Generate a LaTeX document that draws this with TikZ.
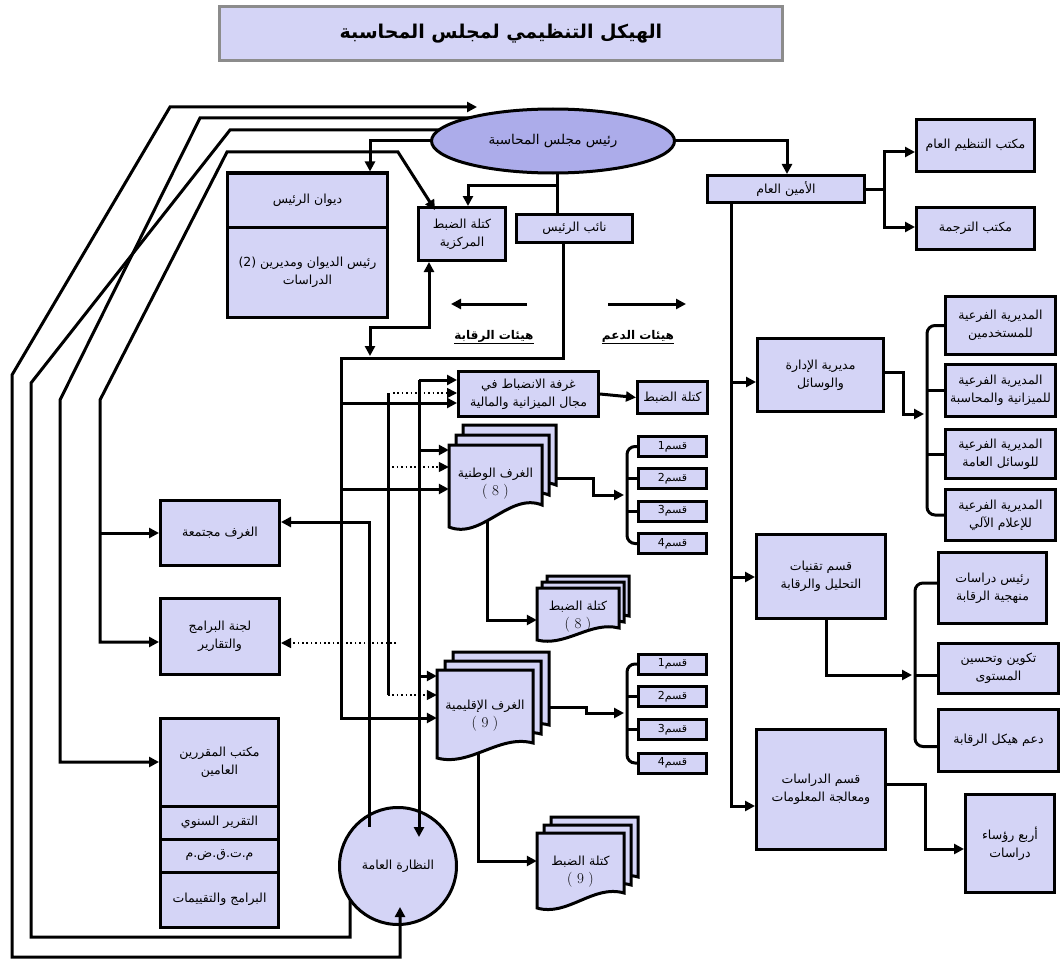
\documentclass[tikz,border=0pt]{standalone}
\usepackage{fontspec}
\usetikzlibrary{arrows.meta,shapes.geometric,calc}
\newfontfamily\arabicfont[Script=Arabic]{DejaVu Sans}
\TeXXeTstate=1
\newcommand\ar[1]{\beginR#1\endR}
\newcommand\num[1]{{\rmfamily\fontsize{15}{17}\selectfont #1}}
\definecolor{boxfill}{RGB}{212,212,246}
\definecolor{ellfill}{RGB}{172,172,234}
\definecolor{titleline}{RGB}{140,140,140}
\pgfdeclarelayer{back}
\pgfdeclarelayer{bg}
\pgfsetlayers{back,bg,main}
% one document shape: xl, yt, w, h (right edge), a (extra drop at left)
\newcommand\docshape[5]{%
  \filldraw[ln, fill=boxfill] (#1,#2) -- (#1+#3,#2) -- (#1+#3,#2+#4)
    .. controls (#1+0.65*#3,#2+#4-0.6*#5) and (#1+0.35*#3,#2+#4+1.6*#5) .. (#1,#2+#4+#5) -- cycle;}
% stack: name, xl, yt, w, h, a, dx, dy(up), text
\newcommand\docstack[9]{%
  \docshape{#2+2*#7}{#3-2*#8}{#4}{#5}{#6}
  \docshape{#2+#7}{#3-#8}{#4}{#5}{#6}
  \docshape{#2}{#3}{#4}{#5}{#6}
  \node[inner sep=0pt, minimum width=#4, minimum height=#5] (#1) at (#2+0.5*#4,#3+0.5*#5) {};
  \node[stxt] at ($(#1.center)+(0,9)$) {#9};
}
\begin{document}
\begin{tikzpicture}[x=1pt,y=-1pt,
  ln/.style={line width=3pt},
  arr/.style={ln,-{Triangle[length=10pt,width=10pt]}},
  darr/.style={ln,{Triangle[length=10pt,width=10pt]}-{Triangle[length=10pt,width=10pt]}},
  dotarr/.style={line width=1.6pt, dash pattern=on 1.6pt off 2.8pt, -{Triangle[length=10pt,width=10pt]}},
  rnd/.style={ln, rounded corners=8pt},
  box/.style={draw, line width=3pt, fill=boxfill, inner sep=1pt, align=center, font=\arabicfont\fontsize{12.5}{18}\selectfont},
  stxt/.style={align=center, inner sep=0pt, font=\arabicfont\fontsize{12.5}{18}\selectfont},
  qbox/.style={box, minimum width=68, minimum height=20, font=\arabicfont\fontsize{11}{12}\selectfont},
  sbox/.style={box, minimum width=110},
  hd/.style={font=\arabicfont\bfseries\fontsize{12}{14}\selectfont, inner sep=1pt},
]
\begin{pgfonlayer}{back}
\fill[white] (0,0) rectangle (1063,963);
\end{pgfonlayer}
\useasboundingbox (0,0) rectangle (1063,963);

% ---------- nodes ----------
\node[draw=titleline, line width=3pt, fill=boxfill, minimum width=563, minimum height=54,
  font=\arabicfont\bfseries\fontsize{19}{22}\selectfont] (title) at (501,34) {\ar{الهيكل التنظيمي لمجلس المحاسبة}};

\node[ellipse, draw, line width=3pt, fill=ellfill, minimum width=243, minimum height=64, inner sep=0pt,
  font=\arabicfont\fontsize{13.5}{16}\selectfont] (pres) at (553,141) {\ar{رئيس مجلس المحاسبة}};

\node[box, minimum width=160, minimum height=54] (diwanA) at (307.5,200) {\ar{ديوان الرئيس}};
\node[box, minimum width=160, minimum height=90] (diwanB) at (307.5,272) {\ar{رئيس الديوان ومديرين \beginL(2)\endL}\\\ar{الدراسات}};
\node[box, minimum width=87, minimum height=53] (ktla) at (462,234) {\ar{كتلة الضبط}\\\ar{المركزية}};
\node[box, minimum width=116, minimum height=28] (naib) at (574.5,228.5) {\ar{نائب الرئيس}};
\node[box, minimum width=157, minimum height=27] (amin) at (786,189) {\ar{الأمين العام}};
\node[box, minimum width=118, minimum height=52] (tanzim) at (975.5,145.5) {\ar{مكتب التنظيم العام}};
\node[box, minimum width=118, minimum height=42] (tarjama) at (975.5,228.5) {\ar{مكتب الترجمة}};

\node[box, minimum width=126, minimum height=73] (idara) at (820.5,375) {\ar{مديرية الإدارة}\\\ar{والوسائل}};
\node[sbox, minimum height=58] (sub1) at (1000.5,325.5) {\ar{المديرية الفرعية}\\\ar{للمستخدمين}};
\node[sbox, minimum height=52] (sub2) at (1000.5,390.5) {\ar{المديرية الفرعية}\\\ar{للميزانية والمحاسبة}};
\node[sbox, minimum height=49] (sub3) at (1000.5,454) {\ar{المديرية الفرعية}\\\ar{للوسائل العامة}};
\node[sbox, minimum height=51] (sub4) at (1000.5,515) {\ar{المديرية الفرعية}\\\ar{للإعلام الآلي}};

\node[box, minimum width=129, minimum height=84] (taqniyat) at (821,576.5) {\ar{قسم تقنيات}\\\ar{التحليل والرقابة}};
\node[box, minimum width=108, minimum height=71] (raees) at (992.5,588) {\ar{رئيس دراسات}\\\ar{منهجية الرقابة}};
\node[box, minimum width=120, minimum height=50] (takwin) at (998.5,668.5) {\ar{تكوين وتحسين}\\\ar{المستوى}};
\node[box, minimum width=120, minimum height=62] (daam) at (998.5,740.5) {\ar{دعم هيكل الرقابة}};
\node[box, minimum width=129, minimum height=120] (dirasat) at (821,789.5) {\ar{قسم الدراسات}\\\ar{ومعالجة المعلومات}};
\node[box, minimum width=89, minimum height=98] (arba) at (1010,843.5) {\ar{أربع رؤساء}\\\ar{دراسات}};

\node[box, minimum width=140, minimum height=45] (ghorfa) at (528.5,394) {\ar{غرفة الانضباط في}\\\ar{مجال الميزانية والمالية}};
\node[box, minimum width=70, minimum height=32] (ktlaS) at (672.5,397.5) {\ar{كتلة الضبط}};

\docstack{g8}{449}{445}{93}{60}{22}{7}{10}{\ar{الغرف الوطنية}\\\num{( 8 )}}
\docstack{ktl8}{537}{588}{82}{40}{12}{5}{6}{\ar{كتلة الضبط}\\\num{( 8 )}}
\docstack{g9}{437}{670}{96}{73}{15}{8}{9}{\ar{الغرف الإقليمية}\\\num{( 9 )}}
\docstack{ktl9}{537}{833}{87}{60}{15}{7}{8}{\ar{كتلة الضبط}\\\num{( 9 )}}

\node[qbox] (q1) at (672.5,446.5) {\ar{قسم\beginL1\endL}};
\node[qbox] (q2) at (672.5,478.5) {\ar{قسم\beginL2\endL}};
\node[qbox] (q3) at (672.5,511) {\ar{قسم\beginL3\endL}};
\node[qbox] (q4) at (672.5,543.5) {\ar{قسم\beginL4\endL}};
\node[qbox] (r1) at (672.5,664) {\ar{قسم\beginL1\endL}};
\node[qbox] (r2) at (672.5,696.5) {\ar{قسم\beginL2\endL}};
\node[qbox] (r3) at (672.5,729.5) {\ar{قسم\beginL3\endL}};
\node[qbox] (r4) at (672.5,763) {\ar{قسم\beginL4\endL}};

\node[box, minimum width=119, minimum height=65] (majtamaa) at (220,533) {\ar{الغرف مجتمعة}};
\node[box, minimum width=119, minimum height=76] (lajna) at (220,636.5) {\ar{لجنة البرامج}\\\ar{والتقارير}};
\node[box, minimum width=118, minimum height=88] (m1) at (219.5,762) {\ar{مكتب المقررين}\\\ar{العامين}};
\node[box, minimum width=118, minimum height=33] (m2) at (219.5,822.5) {\ar{التقرير السنوي}};
\node[box, minimum width=118, minimum height=33] (m3) at (219.5,855.5) {\ar{م.ت.ق.ض.م}};
\node[box, minimum width=118, minimum height=55] (m4) at (219.5,899.5) {\ar{البرامج والتقييمات}};

\node[circle, draw, line width=3pt, fill=boxfill, minimum size=117, inner sep=0pt,
  font=\arabicfont\fontsize{12.5}{14}\selectfont] (circ) at (398,866) {\ar{النظارة العامة}};

\node[hd] (hraq) at (494,337) {\underline{\ar{هيئات الرقابة}}};
\node[hd] (hdaa) at (638,337) {\underline{\ar{هيئات الدعم}}};
\coordinate (hraqA) at (527,304);
\coordinate (hraqB) at (451,304);
\coordinate (hdaaA) at (608,304);
\coordinate (hdaaB) at (686,304);
\draw[arr] (hraqA) -- (hraqB);
\draw[arr] (hdaaA) -- (hdaaB);

\coordinate (bA) at (627,495);
\coordinate (bB) at (627,713);
\coordinate (bC) at (927,414);
\coordinate (bD) at (915,675);

% ---------- connectors on top ----------
\draw[darr] ($(pres.center)+(-76,-34)$) -- (170,107) -- (12,375) -- (12,957) -- (400,957) -- ($(circ.center)+(2,41)$);
\draw[darr] ($(ktla.north west)+(18,4)$) -- (398,152) -- (227,152) -- (100,400) -- (100,642) -- ($(lajna.west)+(0,5.5)$);
\draw[arr] (419,380) -- ($(circ.center)+(21,-29)$);
\draw[arr] ($(circ.center)+(-29,-39)$) -- (369,522) -- ($(majtamaa.east)+(0,-11)$);

% ---------- connectors behind ----------
\begin{pgfonlayer}{bg}
\draw[arr] (pres.center) -- (370,141) -- ($(diwanA.north)+(62.5,0)$);
\draw[ln] ($(pres.center)+(4,0)$) -- ($(naib.north)+(-17.5,0)$);
\draw[arr] (557,185) -- (468,185) -- ($(ktla.north)+(6,0)$);
\draw[arr] (pres.center) -- (787,141) -- ($(amin.north)+(1,0)$);
\draw[arr] ($(pres.center)+(0,-23)$) -- (200,118) -- (60,400) -- (60,762) -- (m1.west);
\draw[ln] ($(pres.center)+(0,-11)$) -- (230,130) -- (31,383) -- (31,937) -- (350,937) -- ($(circ.center)+(-48,0)$);
\draw[arr] (100,533) -- (majtamaa.west);

\draw[arr] ($(naib.south)+(-11.5,0)$) -- (563,358) -- (341,358) -- (341,718) -- ($(g9.west)+(0,11.5)$);
\draw[arr] (341,403) -- ($(ghorfa.west)+(0,9)$);
\draw[arr] (341,489) -- ($(g8.west)+(0,14)$);
\draw[darr] ($(ktla.south)+(-33,0)$) -- (429,327) -- (370,327) -- (370,356);

\draw[ln] (388,393) -- (388,695);
\draw[dotarr] (393,393) -- ($(ghorfa.west)+(0,-1)$);
\draw[dotarr] (388,467) -- ($(g8.west)+(0,-8)$);
\draw[dotarr] (388,695) -- ($(g9.west)+(0,-11.5)$);
\draw[dotarr] (396,643) -- ($(lajna.east)+(0,6.5)$);

\draw[arr] (419,380) -- ($(ghorfa.west)+(0,-14)$);
\draw[arr] (419,450) -- ($(g8.west)+(0,-25)$);
\draw[arr] (419,676) -- ($(g9.west)+(0,-30.5)$);

\draw[arr] (ghorfa.east) -- (ktlaS.west);
\draw[arr] ($(g8.east)+(0,3)$) -- (593,478) -- (593,495) -- ($(bA)+(-3,0)$);
\draw[rnd] (q1.west) -| (bA) |- (q4.west);
\draw[ln] (q2.west) -- (q2.west -| bA);
\draw[ln] (q3.west) -- (q3.west -| bA);
\draw[arr] ($(g8.south)+(-8.5,0)$) -- (487,620) -- ($(ktl8.west)+(0,12)$);

\draw[arr] ($(g9.east)+(0,0.5)$) -- (586,707) -- (586,713) -- ($(bB)+(-3,0)$);
\draw[rnd] (r1.west) -| (bB) |- (r4.west);
\draw[ln] (r2.west) -- (r2.west -| bB);
\draw[ln] (r3.west) -- (r3.west -| bB);
\draw[arr] ($(g9.south)+(-7,0)$) -- (478,861) -- ($(ktl9.west)+(0,-2)$);

\draw[arr] (amin.east) -- (884,189) |- ($(tanzim.west)+(0,6.5)$);
\draw[arr] (884,189) |- ($(tarjama.west)+(0,-1.5)$);
\draw[arr] ($(amin.south)+(-55,0)$) -- (731,806) -- ($(dirasat.west)+(0,16.5)$);
\draw[arr] (731,382) -- ($(idara.west)+(0,7)$);
\draw[arr] (731,577) -- ($(taqniyat.west)+(0,0.5)$);

\draw[arr] ($(idara.east)+(0,-3)$) -- (903,372) -- (903,414) -- ($(bC)+(-3,0)$);
\draw[rnd] (sub1.west) -| (bC) |- (sub4.west);
\draw[ln] (sub2.west) -- (sub2.west -| bC);
\draw[ln] (sub3.west) -- (sub3.west -| bC);

\draw[arr] ($(taqniyat.south)+(5,0)$) -- (826,675) -- ($(bD)+(-3,0)$);
\draw[ln] (bD) -- (takwin.west |- bD);
\draw[rnd] ($(raees.west)+(0,-5)$) -| (bD) |- ($(daam.west)+(0,6)$);

\draw[arr] ($(dirasat.east)+(0,-5.5)$) -- (925,784) |- ($(arba.west)+(0,5.5)$);
\end{pgfonlayer}
\end{tikzpicture}
\end{document}
